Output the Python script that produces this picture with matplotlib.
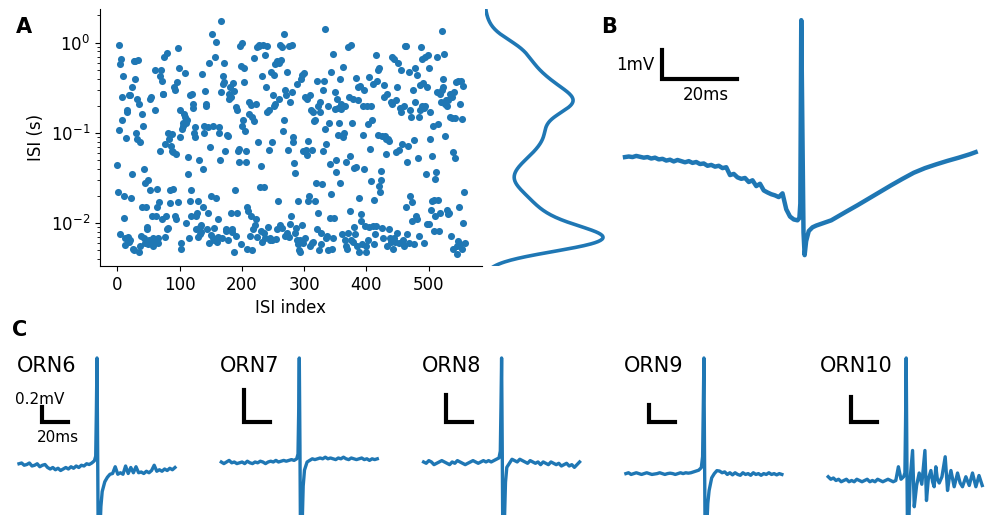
import numpy as np
import matplotlib
matplotlib.use("Agg")
import matplotlib.pyplot as plt

# Panel A: inter-spike intervals (s), in index order
isi = [
    0.044, 0.022, 0.108, 0.93, 0.0075, 0.58, 0.65, 0.138, 0.25, 0.43,
    0.0115, 0.02, 0.0068, 0.0057, 0.088, 0.17, 0.18, 0.007, 0.0062, 0.26,
    0.26, 0.0065, 0.019, 0.32, 0.035, 0.0052, 0.005, 0.62, 0.4, 0.63,
    0.1, 0.085, 0.24, 0.64, 0.0048, 0.21, 0.08, 0.0055, 0.0072, 0.16,
    0.015, 0.12, 0.04, 0.0068, 0.006, 0.028, 0.015, 0.0085, 0.009, 0.03,
    0.0058, 0.0065, 0.023, 0.24, 0.25, 0.012, 0.006, 0.0068, 0.0055, 0.0062,
    0.5, 0.18, 0.012, 0.024, 0.015, 0.006, 0.0068, 0.017, 0.063, 0.43,
    0.5, 0.38, 0.011, 0.27, 0.27, 0.7, 0.075, 0.007, 0.012, 0.76,
    0.0085, 0.0088, 0.1, 0.085, 0.0168, 0.023, 0.071, 0.063, 0.096, 0.024,
    0.062, 0.32, 0.012, 0.3, 0.058, 0.011, 0.37, 0.88, 0.017, 0.52,
    0.18, 0.09, 0.006, 0.0052, 0.11, 0.13, 0.12, 0.16, 0.15, 0.46,
    0.13, 0.01, 0.14, 0.035, 0.054, 0.0068, 0.26, 0.0175, 0.023, 0.012,
    0.27, 0.21, 0.19, 0.1, 0.09, 0.117, 0.0085, 0.012, 0.013, 0.0175,
    0.007, 0.05, 0.009, 0.0075, 0.008, 0.0095, 0.45, 0.015, 0.04, 0.1,
    0.118, 0.29, 0.2, 0.21, 0.0085, 0.115, 0.013, 0.006, 0.6, 0.07,
    0.02, 0.0073, 1.25, 0.118, 0.0068, 0.0065, 0.0088, 0.7, 1.02, 0.019,
    0.0062, 0.011, 0.007, 0.115, 0.1, 0.05, 0.28, 1.75, 0.0068, 0.43,
    0.35, 0.37, 0.6, 0.063, 0.0085, 0.0082, 0.095, 0.093, 0.0065, 0.27,
    0.24, 0.32, 0.25, 0.013, 0.008, 0.0085, 0.36, 0.0048, 0.29, 0.0235,
    0.195, 0.0072, 0.18, 0.013, 0.063, 0.047, 0.066, 0.92, 0.0058, 0.55,
    1.0, 0.12, 0.14, 0.37, 0.52, 0.105, 0.047, 0.063, 0.015, 0.0052,
    0.0135, 0.22, 0.16, 0.0072, 0.205, 0.012, 0.005, 0.15, 0.0085, 0.135,
    0.68, 0.0095, 0.011, 0.21, 0.007, 0.9, 0.08, 0.92, 0.93, 0.025,
    0.043, 0.0082, 0.0062, 0.43, 0.93, 0.025, 0.0078, 0.0068, 0.72, 0.32,
    0.92, 0.17, 0.009, 0.065, 0.18, 0.0065, 0.0068, 0.47, 0.0065, 0.08,
    0.26, 0.44, 0.2, 0.21, 0.58, 0.0067, 0.62, 0.0085, 0.0175, 0.6,
    0.24, 0.95, 0.0095, 0.64, 0.9, 0.0088, 0.105, 0.14, 1.25, 0.3,
    0.0072, 0.26, 0.0078, 0.47, 0.065, 0.92, 0.007, 0.22, 0.0098, 0.012,
    0.93, 0.28, 0.09, 0.08, 0.046, 0.036, 0.0078, 0.0088, 0.0065, 0.35,
    0.0058, 0.0175, 0.005, 0.0048, 0.0065, 0.4, 0.0095, 0.44, 0.006, 0.063,
    0.46, 0.0068, 0.25, 0.065, 0.24, 0.057, 0.082, 0.0175, 0.02, 0.0055,
    0.26, 0.18, 0.065, 0.006, 0.17, 0.0062, 0.135, 0.0175, 0.14, 0.028,
    0.38, 0.0085, 0.2, 0.013, 0.005, 0.22, 0.17, 0.0058, 0.0078, 0.027,
    0.063, 0.3, 0.38, 1.4, 0.11, 0.0068, 0.075, 0.0072, 0.2, 0.005,
    0.13, 0.045, 0.0115, 0.021, 0.47, 0.0052, 0.0068, 0.75, 0.0115, 0.28,
    0.185, 0.05, 0.037, 0.24, 0.19, 0.095, 0.13, 0.4, 0.028, 0.21,
    0.185, 0.0075, 0.53, 0.09, 0.1, 0.0065, 0.2, 0.0055, 0.048, 0.0052,
    0.0078, 0.9, 0.25, 0.056, 0.0135, 0.0065, 0.95, 0.13, 0.24, 0.0062,
    0.041, 0.009, 0.0075, 0.41, 0.042, 0.0055, 0.23, 0.32, 0.019, 0.0048,
    0.33, 0.0105, 0.0125, 0.0058, 0.2, 0.095, 0.3, 0.04, 0.0092, 0.0055,
    0.0048, 0.2, 0.0065, 0.125, 0.42, 0.009, 0.067, 0.029, 0.2, 0.14,
    0.35, 0.0092, 0.0058, 0.018, 0.0075, 0.0092, 0.73, 0.38, 0.5, 0.094,
    0.52, 0.0255, 0.022, 0.038, 0.03, 0.093, 0.0088, 0.0068, 0.25, 0.34,
    0.093, 0.058, 0.085, 0.0055, 0.27, 0.085, 0.082, 0.0085, 0.0068, 0.22,
    0.0062, 0.7, 0.21, 0.0052, 0.0068, 0.65, 0.0062, 0.23, 0.062, 0.32,
    0.0078, 0.6, 0.065, 0.006, 0.19, 0.5, 0.17, 0.0062, 0.075, 0.0065,
    0.2, 0.0055, 0.92, 0.015, 0.92, 0.047, 0.0075, 0.072, 0.006, 0.47,
    0.18, 0.02, 0.15, 0.0105, 0.017, 0.3, 0.084, 0.0058, 0.22, 0.52,
    0.012, 0.011, 0.44, 0.053, 0.15, 0.0072, 0.18, 0.34, 0.9, 0.2,
    0.65, 0.36, 0.006, 0.19, 0.2, 0.7, 0.035, 0.32, 0.0098, 0.72,
    0.52, 0.0098, 0.085, 0.17, 0.014, 0.055, 0.0175, 0.12, 0.0082, 0.018,
    0.031, 0.012, 0.037, 0.7, 0.28, 0.125, 0.018, 0.0082, 0.013, 0.27,
    0.22, 0.3, 1.35, 0.32, 0.39, 0.75, 0.21, 0.092, 0.23, 0.014,
    0.2, 0.0125, 0.23, 0.013, 0.27, 0.15, 0.0072, 0.25, 0.145, 0.0052,
    0.062, 0.28, 0.052, 0.145, 0.37, 0.0055, 0.0045, 0.0063, 0.38, 0.015,
    0.21, 0.0058, 0.38, 0.143, 0.0052, 0.01, 0.33, 0.022, 0.006,
]

# Panel B: average spike waveform (ms, mV)
b_t = list(range(-47, 0)) + [
    -0.5, -0.25, 0, 0.3, 0.6, 0.9, 1.3, 2, 3, 4, 6, 8, 10, 12, 15, 18,
    21, 24, 27, 30, 33, 36, 39, 42, 45, 46.5,
]
b_v = [
    0.0, 0.02, 0.0, 0.04, 0.01, -0.02, 0.0, -0.05, -0.02, -0.08,
    -0.06, -0.12, -0.09, -0.15, -0.1, -0.14, -0.18, -0.14, -0.2, -0.17,
    -0.24, -0.22, -0.3, -0.27, -0.33, -0.3, -0.38, -0.35, -0.62, -0.58,
    -0.7, -0.75, -0.72, -0.86, -0.8, -1.0, -0.92, -1.15, -1.22, -1.28,
    -1.32, -1.38, -1.25, -1.8, -2.05, -2.15, -2.18,
    -2.1, -1.6, 4.72, 1.0, -2.6, -3.38, -2.9, -2.55, -2.42, -2.36,
    -2.27, -2.18, -2.03, -1.88, -1.66, -1.43, -1.2, -0.97, -0.75, -0.54,
    -0.38, -0.25, -0.13, -0.02, 0.1, 0.17,
]

# Panel C: spike waveforms of five ORNs (ms, mV)
orn_names = ["ORN6", "ORN7", "ORN8", "ORN9", "ORN10"]
t_c = list(range(-60, 0, 2)) + [-1, -0.5, 0, 0.5, 1, 1.5, 2, 3, 4] + list(range(6, 61, 2))
orn6_v = [
    0.02, 0.03, 0.0, 0.01, 0.03, -0.01, 0.0, 0.02, -0.02, 0.0,
    0.01, -0.03, -0.05, -0.03, -0.06, -0.04, -0.07, -0.05, -0.03, -0.05,
    -0.02, -0.04, -0.01, -0.03, 0.0, -0.01, 0.02, 0.01, 0.03, 0.06,
    0.12, 0.7, 1.43, 0.2, -1.2, -1.5, -1.0, -0.55, -0.35,
    -0.22, -0.16, -0.12, -0.11, -0.02, -0.12, -0.1, -0.12, -0.01, -0.11,
    -0.03, -0.1, -0.02, -0.1, -0.09, -0.11, -0.08, -0.1, -0.07, 0.0,
    -0.08, -0.06, -0.08, -0.05, -0.07, -0.04, -0.06, -0.03,
]
orn7_v = [
    0.0, -0.01, 0.0, 0.01, -0.005, 0.0, -0.01, -0.005, 0.0, -0.01,
    0.005, -0.005, -0.01, 0.0, -0.005, 0.005, 0.0, -0.01, 0.0, 0.005,
    0.0, 0.01, 0.0, 0.005, 0.01, 0.005, 0.01, 0.015, 0.01, 0.02,
    0.05, 0.3, 0.65, 0.1, -0.6, -0.75, -0.45, -0.15, -0.05,
    0.0, 0.01, 0.02, 0.015, 0.02, 0.025, 0.02, 0.03, 0.02, 0.025,
    0.02, 0.015, 0.025, 0.02, 0.03, 0.02, 0.015, 0.025, 0.02, 0.015,
    0.02, 0.025, 0.015, 0.02, 0.01, 0.02, 0.015, 0.02,
]
orn8_v = [
    0.0, -0.01, 0.01, 0.0, -0.02, -0.01, 0.0, 0.01, 0.0, -0.01,
    -0.02, 0.0, -0.01, 0.01, 0.0, -0.01, -0.02, -0.01, 0.0, 0.01,
    0.0, -0.01, 0.0, 0.01, 0.0, 0.01, 0.0, 0.01, 0.02, 0.03,
    0.08, 0.4, 0.77, 0.1, -0.7, -0.85, -0.5, -0.15, -0.04,
    -0.01, 0.02, 0.01, 0.0, 0.02, 0.01, 0.0, -0.01, 0.01, 0.0,
    -0.01, 0.0, -0.02, 0.0, -0.01, -0.02, 0.0, -0.01, -0.02, -0.01,
    -0.03, -0.02, -0.01, -0.03, -0.02, -0.04, -0.02, 0.0,
]
orn9_v = [
    0.0, 0.01, -0.01, 0.0, 0.01, 0.0, -0.01, 0.0, 0.01, 0.0,
    -0.01, -0.005, 0.0, 0.01, 0.0, -0.01, 0.0, 0.005, 0.0, -0.01,
    0.0, 0.01, 0.0, 0.01, 0.005, 0.01, 0.02, 0.03, 0.04, 0.07,
    0.2, 0.75, 1.36, 0.2, -0.9, -1.1, -0.7, -0.35, -0.2,
    -0.05, 0.0, 0.035, 0.03, 0.01, 0.02, -0.01, 0.01, -0.015, 0.01,
    -0.01, -0.02, 0.01, -0.01, 0.0, -0.02, 0.01, -0.01, 0.0, -0.02,
    0.0, -0.01, 0.01, -0.01, 0.0, -0.015, 0.0, -0.01,
]
t_orn10 = list(range(-60, 0, 2)) + [
    -1, -0.5, 0, 0.5, 1, 1.5, 2, 3, 4.9, 6.2, 8, 10, 12, 14.4, 15.6, 17,
    19, 20.3, 21.5, 22.8, 24, 25.4, 27.5, 30, 31.8, 33, 34.4, 36.9, 39.5,
    41.5, 43.3, 45.9, 48.5, 51, 53.6, 56, 58.5,
]
orn10_v = [
    0.02, 0.0, 0.01, -0.01, 0.0, -0.02, -0.01, 0.0, -0.02, -0.01,
    -0.02, 0.0, -0.01, -0.02, -0.01, 0.0, -0.02, -0.01, -0.02, 0.0,
    -0.01, -0.02, -0.01, 0.0, -0.01, -0.02, -0.01, 0.1, 0.0, 0.02,
    0.05, 0.45, 0.97, 0.2, -0.45, -0.6, -0.35, 0.0,
    0.23, -0.22, -0.05, 0.05, -0.04, 0.23, -0.17, 0.0, 0.07, -0.02,
    -0.06, 0.1, 0.0, -0.03, 0.02, 0.18, -0.09, 0.0, 0.07, -0.06,
    0.05, -0.03, -0.06, 0.02, -0.05, 0.05, -0.06, 0.03, -0.05,
]
orn_t = [t_c, t_c, t_c, t_c, t_orn10]
orn_v = [orn6_v, orn7_v, orn8_v, orn9_v, orn10_v]

# layout helpers (pixels of a 987x515 canvas)
W, H = 987, 515


def px_box(left, top, right, bottom):
    return [left / W, 1 - bottom / H, (right - left) / W, (bottom - top) / H]


blue = "#1f77b4"
plt.rcParams["font.size"] = 12

fig = plt.figure(figsize=(W / 100, H / 100), dpi=100)

# ---- A: ISI scatter ----
ax_a = fig.add_axes(px_box(100, 9, 482, 266))
ax_a.scatter(np.arange(len(isi)), isi, s=26, color=blue, linewidths=0)
ax_a.set_yscale("log")
ax_a.set_xlabel("ISI index")
ax_a.set_ylabel("ISI (s)")
ax_a.spines["top"].set_visible(False)
ax_a.spines["right"].set_visible(False)

# ---- A side: density of log ISI ----
log_isi = np.log10(isi)
bw = 0.11
grid = np.linspace(-2.7, 0.5, 500)
dens = np.exp(-0.5 * ((grid[:, None] - log_isi[None, :]) / bw) ** 2).sum(axis=1)
ax_k = fig.add_axes(px_box(485, 9, 610, 266))
ax_k.plot(dens, 10 ** grid, color=blue, lw=2.6)
ax_k.set_yscale("log")
ax_k.set_ylim(ax_a.get_ylim())
ax_k.set_xlim(0, dens.max() * 125 / 118)
ax_k.axis("off")

# ---- B: average waveform ----
ax_b = fig.add_axes(px_box(615, 10, 985, 265))
ax_b.plot(b_t, b_v, color=blue, lw=3.2)
ax_b.plot([-37.1, -37.1, -17.1], [3.69, 2.69, 2.69], color="black", lw=3,
          solid_joinstyle="miter")
ax_b.text(-39.3, 3.19, "1mV", ha="right", va="center", fontsize=12)
ax_b.text(-25.4, 2.14, "20ms", ha="center", va="center", fontsize=12)
ax_b.set_xlim(-49.67, 49.0)
ax_b.set_ylim(-3.72, 5.07)
ax_b.axis("off")

# ---- C: individual ORN waveforms ----
px_per_mv = [75, 160, 135, 85, 125]
for i, (name, t, v) in enumerate(zip(orn_names, orn_t, orn_v)):
    start = 19 + 202.3 * i
    ax = fig.add_axes(px_box(start - 4, 340, start + 162, 515))
    k = px_per_mv[i]
    vmax = max(v)
    ax.plot(t, v, color=blue, lw=2.4)
    ax.set_xlim(-63.08, 64.62)
    ax.set_ylim(vmax - 157 / k, vmax + 18 / k)
    vb = vmax - 64 / k
    ax.plot([-42.5, -42.5, -22.5], [vb + 0.2, vb, vb], color="black", lw=3,
            solid_joinstyle="miter")
    ax.text(-38.5, vmax - 8 / k, name, ha="center", va="center", fontsize=15)
    if i == 0:
        ax.text(-43.9, vmax - 41 / k, "0.2mV", ha="center", va="center", fontsize=11)
        ax.text(-30.0, vmax - 79 / k, "20ms", ha="center", va="center", fontsize=11)
    ax.axis("off")

for letter, x, y in [("A", 24, 27), ("B", 609, 27), ("C", 20, 330)]:
    fig.text(x / W, 1 - y / H, letter, ha="center", va="center",
             fontsize=15, fontweight="bold")

fig.savefig("out.png", dpi=100)
